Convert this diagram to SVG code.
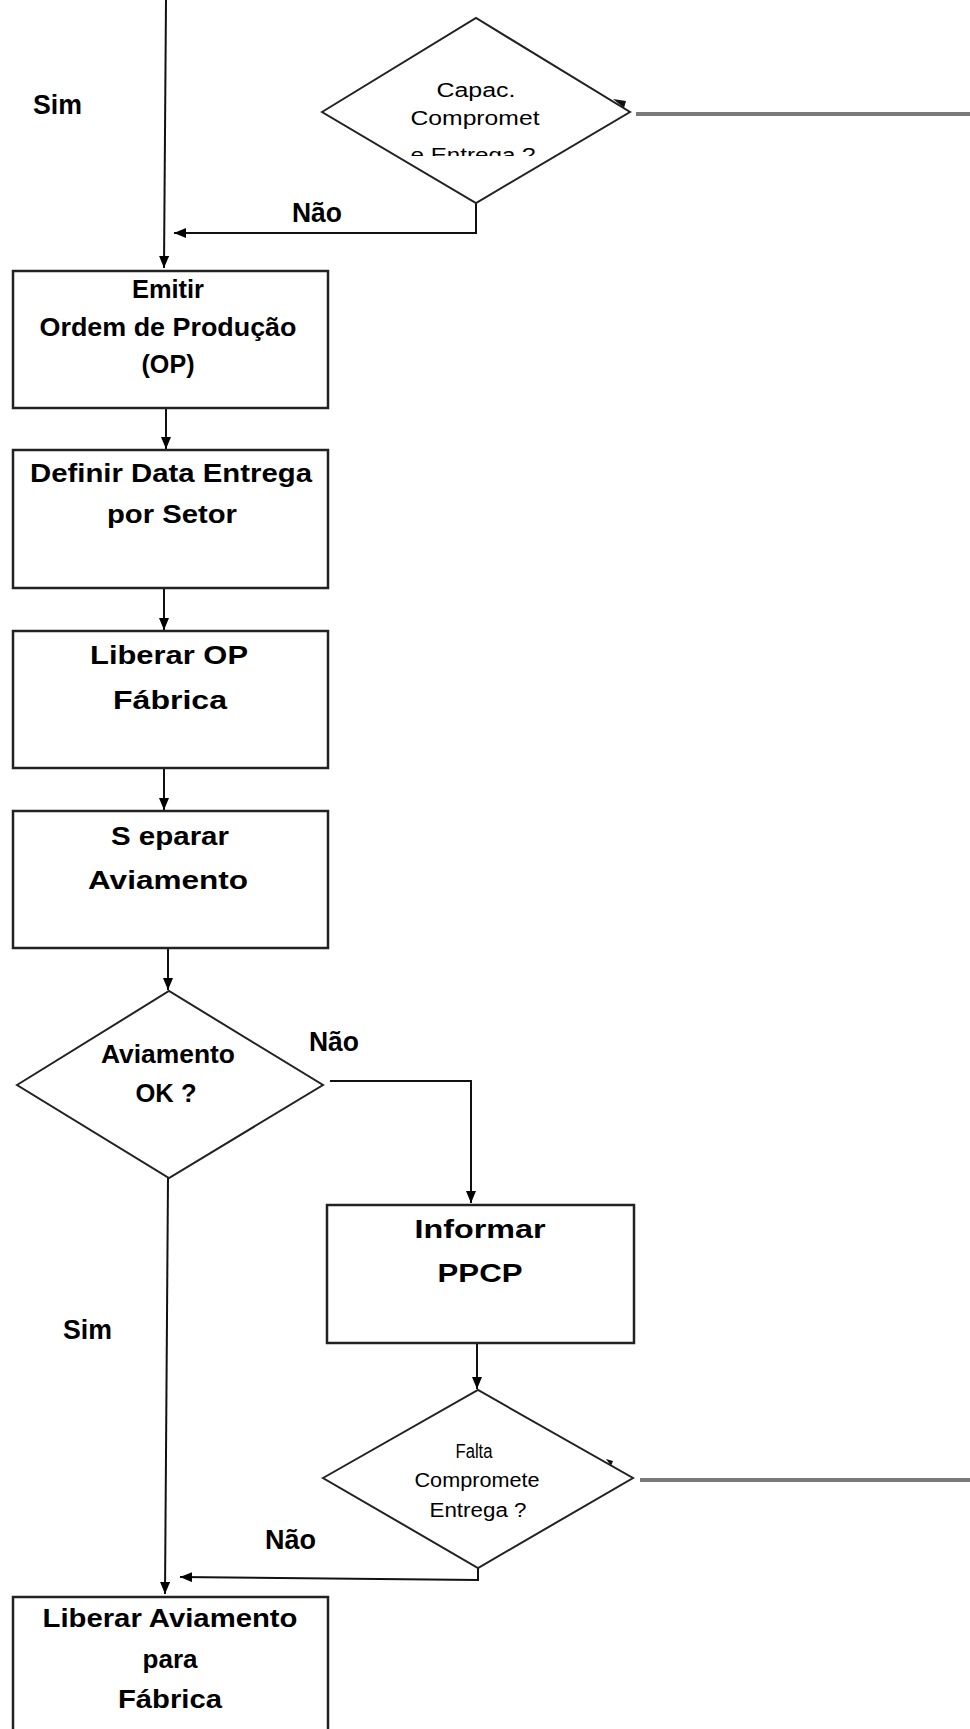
<svg xmlns="http://www.w3.org/2000/svg" width="970" height="1729" viewBox="0 0 970 1729">
<defs>
<marker id="arr" viewBox="0 0 12 10" refX="12" refY="5" markerWidth="12" markerHeight="10" markerUnits="userSpaceOnUse" orient="auto">
<path d="M0,0 L12,5 L0,10 z" fill="#000"/>
</marker>
<clipPath id="clipD1"><rect x="300" y="0" width="360" height="156"/></clipPath>
</defs>
<style>
.box{fill:#fff;stroke:#222;stroke-width:2.5}
.dia{fill:#fff;stroke:#222;stroke-width:2}
.t{font-family:"Liberation Sans",Arial,sans-serif;font-weight:bold;font-size:26px;fill:#000;text-anchor:middle}
.tb{font-family:"Liberation Sans",Arial,sans-serif;font-weight:bold;font-size:27px;fill:#000}
.tr{font-family:"Liberation Sans",Arial,sans-serif;font-size:20px;fill:#000;text-anchor:middle}
.c{fill:none;stroke:#111;stroke-width:2}
.g{fill:none;stroke:#7a7a7a;stroke-width:4}
</style>
<rect width="970" height="1729" fill="#fff"/>

<g id="connectors">
<path class="c" d="M166,0 L164,268" marker-end="url(#arr)"/>
<path class="c" d="M476,203 L476,233 L174,233" marker-end="url(#arr)"/>
<path class="g" d="M636,114 L970,114"/>
<path class="c" d="M166,408 L166,449" marker-end="url(#arr)"/>
<path class="c" d="M164,588 L164,630" marker-end="url(#arr)"/>
<path class="c" d="M164,768 L164,810" marker-end="url(#arr)"/>
<path class="c" d="M168,948 L168,990" marker-end="url(#arr)"/>
<path class="c" d="M330,1081 L471,1081 L471,1203" marker-end="url(#arr)"/>
<path class="c" d="M168,1178 L165,1594" marker-end="url(#arr)"/>
<path class="c" d="M477,1343 L477,1389" marker-end="url(#arr)"/>
<path class="c" d="M478,1568 L478,1580 L180,1577" marker-end="url(#arr)"/>
<path class="g" d="M640,1480 L970,1480"/>
<path d="M613,99 L626,101 L624,108 z" fill="#111"/>
<path d="M606,1459 L613,1461 L611,1466 z" fill="#111"/>
</g>

<g id="lbl-sim1"><text class="tb" x="33" y="114" textLength="49" lengthAdjust="spacingAndGlyphs">Sim</text></g>
<g id="lbl-nao1"><text class="tb" x="292" y="222" textLength="50" lengthAdjust="spacingAndGlyphs">Não</text></g>
<g id="lbl-nao2"><text class="tb" x="309" y="1051" textLength="50" lengthAdjust="spacingAndGlyphs">Não</text></g>
<g id="lbl-sim2"><text class="tb" x="63" y="1339" textLength="49" lengthAdjust="spacingAndGlyphs">Sim</text></g>
<g id="lbl-nao3"><text class="tb" x="265" y="1549" textLength="51" lengthAdjust="spacingAndGlyphs">Não</text></g>

<g id="d1">
<polygon class="dia" points="322,112 476,18 630,112 476,203"/>
<text class="tr" x="476" y="97" textLength="79" lengthAdjust="spacingAndGlyphs">Capac.</text>
<text class="tr" x="475" y="125" textLength="129" lengthAdjust="spacingAndGlyphs">Compromet</text>
<text class="tr" x="473" y="162" textLength="125" lengthAdjust="spacingAndGlyphs" clip-path="url(#clipD1)">e Entrega ?</text>
</g>

<g id="b1">
<rect class="box" x="13" y="271" width="315" height="137"/>
<text class="t" x="168" y="298" textLength="72" lengthAdjust="spacingAndGlyphs">Emitir</text>
<text class="t" x="168" y="336" textLength="257" lengthAdjust="spacingAndGlyphs">Ordem de Produção</text>
<text class="t" x="168" y="373" textLength="53" lengthAdjust="spacingAndGlyphs">(OP)</text>
</g>

<g id="b2">
<rect class="box" x="13" y="450" width="315" height="138"/>
<text class="t" x="171" y="482" font-size="27" textLength="282" lengthAdjust="spacingAndGlyphs">Definir Data Entrega</text>
<text class="t" x="172" y="523" font-size="27" textLength="130" lengthAdjust="spacingAndGlyphs">por Setor</text>
</g>

<g id="b3">
<rect class="box" x="13" y="631" width="315" height="137"/>
<text class="t" x="169" y="664" font-size="30" textLength="158" lengthAdjust="spacingAndGlyphs">Liberar OP</text>
<text class="t" x="170" y="709" font-size="30" textLength="114" lengthAdjust="spacingAndGlyphs">Fábrica</text>
</g>

<g id="b4">
<rect class="box" x="13" y="811" width="315" height="137"/>
<text class="t" x="170" y="845" font-size="30" textLength="118" lengthAdjust="spacingAndGlyphs">S eparar</text>
<text class="t" x="168" y="889" font-size="30" textLength="160" lengthAdjust="spacingAndGlyphs">Aviamento</text>
</g>

<g id="d2">
<polygon class="dia" points="17,1085 169,991 323,1085 169,1178"/>
<text class="t" x="168" y="1063" font-size="25" textLength="134" lengthAdjust="spacingAndGlyphs">Aviamento</text>
<text class="t" x="166" y="1102" font-size="25" textLength="61" lengthAdjust="spacingAndGlyphs">OK ?</text>
</g>

<g id="b5">
<rect class="box" x="327" y="1205" width="307" height="138"/>
<text class="t" x="480" y="1238" font-size="29" textLength="131" lengthAdjust="spacingAndGlyphs">Informar</text>
<text class="t" x="480" y="1282" font-size="29" textLength="85" lengthAdjust="spacingAndGlyphs">PPCP</text>
</g>

<g id="d3">
<polygon class="dia" points="323,1478 478,1390 633,1478 478,1568"/>
<text class="tr" x="474" y="1458" textLength="37" lengthAdjust="spacingAndGlyphs">Falta</text>
<text class="tr" x="477" y="1487" textLength="125" lengthAdjust="spacingAndGlyphs">Compromete</text>
<text class="tr" x="478" y="1517" textLength="97" lengthAdjust="spacingAndGlyphs">Entrega ?</text>
</g>

<g id="b6">
<rect class="box" x="13" y="1597" width="315" height="150"/>
<text class="t" x="170" y="1627" font-size="27" textLength="255" lengthAdjust="spacingAndGlyphs">Liberar Aviamento</text>
<text class="t" x="170" y="1668" font-size="27" textLength="55" lengthAdjust="spacingAndGlyphs">para</text>
<text class="t" x="170" y="1708" font-size="27" textLength="104" lengthAdjust="spacingAndGlyphs">Fábrica</text>
</g>
</svg>
